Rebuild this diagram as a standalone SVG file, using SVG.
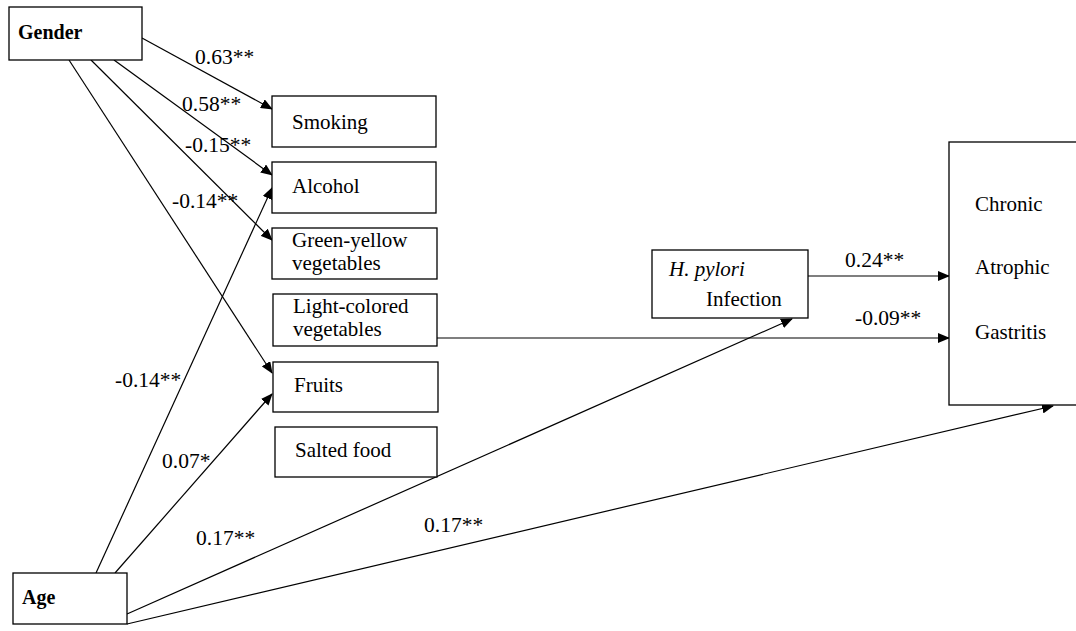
<svg xmlns="http://www.w3.org/2000/svg" width="1076" height="631" viewBox="0 0 1076 631">
<style>
.box{fill:#fff;stroke:#000;stroke-width:1.3}
.t{font-family:"Liberation Serif","Times New Roman",serif;font-size:21px;fill:#000}
.b{font-weight:bold;font-size:20px}
.lbl{font-family:"Liberation Serif","Times New Roman",serif;font-size:21.5px;fill:#000}
.e{fill:none;stroke:#000;stroke-width:1.2;marker-end:url(#ah)}
</style>
<defs>
<marker id="ah" markerUnits="userSpaceOnUse" markerWidth="12" markerHeight="10" viewBox="0 0 12 10" refX="11" refY="5" orient="auto">
<path d="M0,0 L12,5 L0,10 Z" fill="#000"/>
</marker>
</defs>
<rect width="1076" height="631" fill="#fff"/>
<g id="connectors">
<line class="e" x1="142" y1="38" x2="272" y2="109"/>
<line class="e" x1="114" y1="60" x2="272" y2="175"/>
<line class="e" x1="91" y1="60" x2="272" y2="240"/>
<line class="e" x1="69" y1="60" x2="272" y2="373"/>
<line class="e" x1="96" y1="573" x2="272" y2="188"/>
<line class="e" x1="115" y1="573" x2="272" y2="394"/>
<line class="e" x1="127" y1="614" x2="792" y2="319"/>
<line class="e" x1="127" y1="624" x2="1053" y2="406"/>
<line class="e" x1="808" y1="276" x2="949" y2="276"/>
<line class="e" x1="437" y1="338" x2="949" y2="338"/>
<text class="lbl" x="195" y="64">0.63**</text>
<text class="lbl" x="182" y="111">0.58**</text>
<text class="lbl" x="185" y="152">-0.15**</text>
<text class="lbl" x="172" y="208">-0.14**</text>
<text class="lbl" x="115" y="387">-0.14**</text>
<text class="lbl" x="162" y="468">0.07*</text>
<text class="lbl" x="196" y="545">0.17**</text>
<text class="lbl" x="424" y="532">0.17**</text>
<text class="lbl" x="845" y="267">0.24**</text>
<text class="lbl" x="855" y="325">-0.09**</text>
</g>
<g id="gender"><rect class="box" x="9" y="7" width="133" height="53"/><text class="t b" x="18" y="39">Gender</text></g>
<g id="age"><rect class="box" x="13" y="573" width="114" height="51"/><text class="t b" x="22" y="604">Age</text></g>
<g id="smoking"><rect class="box" x="272" y="96" width="164" height="51"/><text class="t" x="292" y="129">Smoking</text></g>
<g id="alcohol"><rect class="box" x="272" y="162" width="164" height="51"/><text class="t" x="292" y="193">Alcohol</text></g>
<g id="greenyellow"><rect class="box" x="272" y="228" width="165" height="51"/><text class="t" x="292" y="247">Green-yellow</text><text class="t" x="292" y="270">vegetables</text></g>
<g id="lightcolored"><rect class="box" x="273" y="294" width="164" height="52"/><text class="t" x="293" y="313">Light-colored</text><text class="t" x="293" y="336">vegetables</text></g>
<g id="fruits"><rect class="box" x="273" y="362" width="165" height="50"/><text class="t" x="294" y="392">Fruits</text></g>
<g id="salted"><rect class="box" x="275" y="427" width="162" height="50"/><text class="t" x="295" y="457">Salted food</text></g>
<g id="hpylori"><rect class="box" x="652" y="250" width="156" height="68"/><text class="t" x="669" y="276" font-style="italic">H. pylori</text><text class="t" x="706" y="306">Infection</text></g>
<g id="cag"><rect class="box" x="949" y="142" width="140" height="263"/><text class="t" x="975" y="211">Chronic</text><text class="t" x="975" y="274">Atrophic</text><text class="t" x="975" y="339">Gastritis</text></g>
</svg>
